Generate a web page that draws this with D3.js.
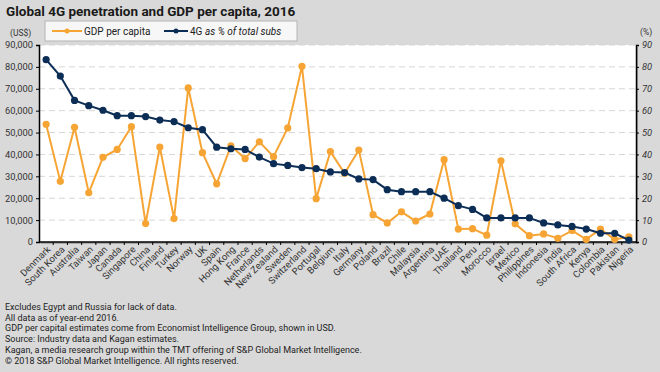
<!DOCTYPE html>
<html>
<head>
<meta charset="utf-8">
<script src="https://cdn.jsdelivr.net/npm/d3@7"></script>
<style>
  body { margin: 0; background: #d9d9d9; }
  svg { display: block; font-family: Roboto, "Open Sans", sans-serif; }
</style>
</head>
<body>
<div class="chart"></div>
<script>
const countries = ['Denmark','South Korea','Australia','Taiwan','Japan','Canada','Singapore','China','Finland','Turkey',
  'Norway','UK','Spain','Hong Kong','France','Netherlands','New Zealand','Sweden','Switzerland','Portugal',
  'Belgium','Italy','Germany','Poland','Brazil','Chile','Malaysia','Argentina','UAE','Thailand',
  'Peru','Morocco','Israel','Mexico','Philippines','Indonesia','India','South Africa','Kenya','Colombia',
  'Pakistan','Nigeria'];

// GDP per capita, US$
const gdp = [53800, 27700, 52400, 22500, 38700, 42300, 52700, 8400, 43400, 10700,
  70400, 40800, 26600, 43900, 38100, 45800, 39000, 52100, 80300, 19800,
  41300, 31400, 42000, 12500, 8700, 13800, 9600, 12800, 37600, 5900,
  6100, 3100, 37100, 8300, 2900, 3700, 1700, 5200, 1200, 5900,
  1200, 2400];

// 4G as % of total subs
const lte = [83.3, 75.8, 64.7, 62.3, 60.2, 57.7, 57.7, 57.3, 55.7, 55.0,
  52.2, 51.3, 43.3, 42.6, 42.3, 38.8, 35.8, 35.0, 34.0, 33.5,
  32.0, 31.7, 28.8, 28.5, 23.9, 23.0, 23.0, 23.0, 20.0, 16.6,
  14.9, 11.0, 11.0, 11.0, 11.0, 8.7, 7.8, 7.1, 5.9, 4.0,
  4.0, 0.9];

const leftTicks = [0, 10000, 20000, 30000, 40000, 50000, 60000, 70000, 80000, 90000];
const rightTicks = [0, 10, 20, 30, 40, 50, 60, 70, 80, 90];

const notes = [
  'Excludes Egypt and Russia for lack of data.',
  'All data as of year-end 2016.',
  'GDP per capital estimates come from Economist Intelligence Group, shown in USD.',
  'Source: Industry data and Kagan estimates.',
  'Kagan, a media research group within the TMT offering of S&P Global Market Intelligence.',
  '\u00A9 2018 S&P Global Market Intelligence. All rights reserved.'
];

const orange = '#f6a535';
const navy = '#0c2d55';

const W = 660, H = 372;
const plot = {left: 39, right: 636, top: 45, bottom: 242};

const svg = d3.select('.chart').append('svg')
  .attr('width', W).attr('height', H);

svg.append('rect').attr('width', W).attr('height', H).attr('fill', '#d9d9d9');

// Title
svg.append('text')
  .attr('x', 6).attr('y', 16)
  .attr('font-size', 13.5).attr('font-weight', 700).attr('fill', '#1a1a1a')
  .text('Global 4G penetration and GDP per capita, 2016');

let xScale = d3.scaleBand().domain(countries).range([plot.left, plot.right]);
let yLeft = d3.scaleLinear().domain([0, 90000]).range([plot.bottom, plot.top]);
let yRight = d3.scaleLinear().domain([0, 90]).range([plot.bottom, plot.top]);
const cx = d => xScale(d) + xScale.bandwidth() / 2;

// plot background + shadow
svg.append('rect')
  .attr('x', plot.left + 2).attr('y', plot.top + 2)
  .attr('width', plot.right - plot.left).attr('height', plot.bottom - plot.top)
  .attr('fill', '#a8a8a8');
svg.append('rect')
  .attr('x', plot.left).attr('y', plot.top)
  .attr('width', plot.right - plot.left).attr('height', plot.bottom - plot.top)
  .attr('fill', '#fff');

// grid
svg.append('g').selectAll('line')
  .data(leftTicks.slice(1))
  .join('line')
  .attr('x1', plot.left).attr('x2', plot.right)
  .attr('y1', d => yLeft(d)).attr('y2', d => yLeft(d))
  .attr('stroke', '#d6d6d6').attr('stroke-width', 1)
  .attr('stroke-dasharray', '6,4');

// left axis
let yAxisL = g => g
  .attr('transform', `translate(${plot.left},0)`)
  .call(d3.axisLeft(yLeft).tickValues(leftTicks).tickSize(3).tickFormat(d3.format(',')))
  .call(g => g.select('.domain').attr('stroke', '#000').attr('stroke-width', 1.5))
  .call(g => g.selectAll('.tick text').attr('font-size', 9.3).attr('fill', '#333').attr('font-family', 'Roboto, sans-serif'));
svg.append('g').call(yAxisL);

// right axis
let yAxisR = g => g
  .attr('transform', `translate(${plot.right},0)`)
  .call(d3.axisRight(yRight).tickValues(rightTicks).tickSize(3))
  .call(g => g.select('.domain').attr('stroke', '#000').attr('stroke-width', 1.5))
  .call(g => g.selectAll('.tick text').attr('font-size', 9.3).attr('fill', '#333')
    .attr('font-style', 'italic').attr('font-family', 'Roboto, sans-serif'));
svg.append('g').call(yAxisR);

// bottom axis: ticks at category boundaries
const bx = svg.append('g');
bx.append('line')
  .attr('x1', plot.left).attr('x2', plot.right)
  .attr('y1', plot.bottom).attr('y2', plot.bottom)
  .attr('stroke', '#000').attr('stroke-width', 1.5);
bx.selectAll('.btick')
  .data(countries.slice(1))
  .join('line')
  .attr('class', 'btick')
  .attr('x1', d => xScale(d)).attr('x2', d => xScale(d))
  .attr('y1', plot.bottom).attr('y2', plot.bottom + 3)
  .attr('stroke', '#000');
bx.selectAll('text')
  .data(countries)
  .join('text')
  .attr('transform', d => `translate(${cx(d) + 5},${plot.bottom + 8}) rotate(-45)`)
  .attr('text-anchor', 'end')
  .attr('font-size', 9.5).attr('fill', '#333')
  .text(d => d);

// unit labels
svg.append('text').attr('x', 10).attr('y', 36).attr('font-size', 8.5).attr('fill', '#333').text('(US$)');
svg.append('text').attr('x', 640).attr('y', 35).attr('font-size', 8.5).attr('fill', '#333').text('(%)');

// lines
const lineGdp = d3.line().x((d, i) => cx(countries[i])).y(d => yLeft(d));
const lineLte = d3.line().x((d, i) => cx(countries[i])).y(d => yRight(d));

svg.append('path').datum(gdp)
  .attr('d', lineGdp).attr('fill', 'none')
  .attr('stroke', orange).attr('stroke-width', 2);
svg.append('g').selectAll('circle').data(gdp).join('circle')
  .attr('cx', (d, i) => cx(countries[i])).attr('cy', d => yLeft(d))
  .attr('r', 3.6).attr('fill', orange);

svg.append('path').datum(lte)
  .attr('d', lineLte).attr('fill', 'none')
  .attr('stroke', navy).attr('stroke-width', 2);
svg.append('g').selectAll('circle').data(lte).join('circle')
  .attr('cx', (d, i) => cx(countries[i])).attr('cy', d => yRight(d))
  .attr('r', 3.6).attr('fill', navy);

// legend
const lg = svg.append('g');
lg.append('rect').attr('x', 45).attr('y', 21).attr('width', 252).attr('height', 20)
  .attr('fill', '#f7f7f7').attr('stroke', '#b5b5b5');
lg.append('line').attr('x1', 52).attr('x2', 82).attr('y1', 31).attr('y2', 31)
  .attr('stroke', orange).attr('stroke-width', 2);
lg.append('circle').attr('cx', 67).attr('cy', 31).attr('r', 2.5).attr('fill', orange);
lg.append('text').attr('x', 84).attr('y', 34.5).attr('font-size', 10).attr('fill', '#222').text('GDP per capita');
lg.append('line').attr('x1', 164).attr('x2', 188).attr('y1', 31).attr('y2', 31)
  .attr('stroke', navy).attr('stroke-width', 2);
lg.append('circle').attr('cx', 176).attr('cy', 31).attr('r', 2.5).attr('fill', navy);
const lt = lg.append('text').attr('x', 190).attr('y', 34.5).attr('font-size', 10).attr('fill', '#222');
lt.append('tspan').text('4G ');
lt.append('tspan').attr('font-style', 'italic').text('as % of total subs');

// footnotes
svg.append('g').selectAll('text').data(notes).join('text')
  .attr('x', 5).attr('y', (d, i) => 310 + i * 10.7)
  .attr('font-size', 9).attr('fill', '#222')
  .text(d => d);
</script>
</body>
</html>
